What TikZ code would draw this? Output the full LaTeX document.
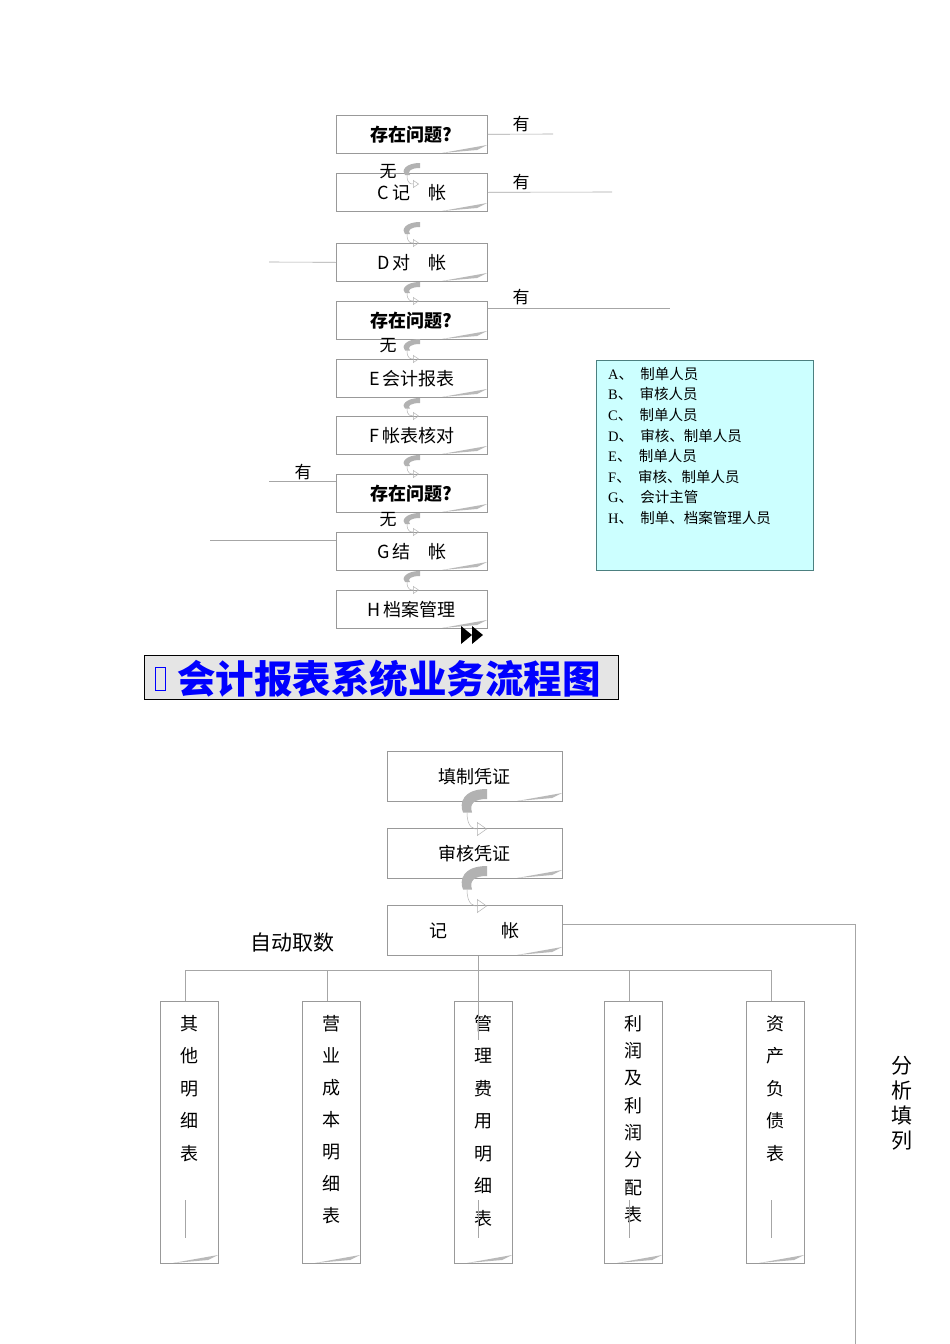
\documentclass[tikz,border=0pt]{standalone}
\usepackage{fontspec}
\setmainfont{Liberation Serif}
\newfontfamily\cjk{Noto Sans CJK SC}
\usetikzlibrary{arrows.meta}
\definecolor{legfill}{RGB}{204,255,255}
\tikzset{
 pbox/.style={draw=gray!80,line width=0.6pt,fill=white,inner sep=0pt,font=\cjk\fontsize{18}{18}\selectfont},
 ln/.style={draw=gray!70,line width=0.6pt},
 lbl/.style={font=\cjk\fontsize{17}{17}\selectfont,inner sep=0pt},
}
\newcommand\curlmark[3]{% x, top y, bottom y
 \fill[gray!60] (#1+9,#2) .. controls (#1-6,#2) and (#1-10,#2+8) .. (#1-6,{(#2+#3)/2}) -- (#1-1,{(#2+#3)/2}) .. controls (#1-4,#2+8) and (#1,#2+5) .. (#1+9,#2+5) -- cycle;
 \draw[gray!60,line width=0.5pt,-{Triangle[open,length=6pt,width=8pt]}] (#1-4,{(#2+#3)/2}) .. controls (#1-4,#3-3) and (#1,#3-3) .. (#1+8,#3-3);
}
\newcommand\curlbig[3]{%
 \fill[gray!60] (#1+12,#2) .. controls (#1-12,#2) and (#1-16,#2+14) .. (#1-12,{(#2+#3)/2}) -- (#1-3,{(#2+#3)/2}) .. controls (#1-6,#2+14) and (#1,#2+10) .. (#1+12,#2+10) -- cycle;
 \draw[gray!60,line width=0.5pt,-{Triangle[open,length=10pt,width=14pt]}] (#1-8,{(#2+#3)/2}) .. controls (#1-8,#3-7) and (#1,#3-7) .. (#1+12,#3-7);
}
\newcommand\curlcorner[4]{% x2 y2
 \fill[gray!55] (#1-45,#2) -- (#1,#2-8) -- (#1-10,#2-3) -- cycle;
}
\begin{document}
\begin{tikzpicture}[x=1pt,y=-1pt]
\useasboundingbox (0,0) rectangle (950,1344);
% top flow
\foreach \n/\t/\txt in {q1/115/{\bfseries 存在问题?},c/173/{C\,\cjk 记\quad 帐},d/243/{D\,\cjk 对\quad 帐},q2/301/{\bfseries 存在问题?},e/359/{E\,\cjk 会计报表},f/416/{F\,\cjk 帐表核对},q3/474/{\bfseries 存在问题?},g/532/{G\,\cjk 结\quad 帐},h/590/{H\,\cjk 档案管理}}{
 \node[pbox,minimum width=151pt,minimum height=38pt,anchor=north west] (\n) at (336,\t) {\txt};
 \curlcorner{487}{\t+38}{}{}
}
\curlmark{411}{163}{187}
\curlmark{411}{222}{246}
\curlmark{411}{282}{304}
\curlmark{411}{339}{362}
\curlmark{411}{398}{419}
\curlmark{411}{455}{477}
\curlmark{411}{513}{535}
\curlmark{411}{571}{593}
\node[lbl] (w1) at (388,172) {无};
\node[lbl] (w2) at (388,346) {无};
\node[lbl] (w3) at (388,520) {无};
\coordinate (r1) at (553,134); \coordinate (r2) at (612,192); \coordinate (r4) at (670,308);
\draw[ln] (q1.east) -- (r1); \draw[ln] (c.east) -- (r2); \draw[ln] (q2.east|-r4) -- (r4);
\node[lbl] (y1) at (521,124) {有}; \node[lbl] (y2) at (521,182) {有}; \node[lbl] (y4) at (521,297) {有};
\coordinate (l1) at (269,262); \coordinate (l2) at (269,481); \coordinate (l3) at (210,540);
\draw[ln] (d.west) -- (l1); \draw[ln] (q3.west|-l2) -- (l2); \draw[ln] (g.west|-l3) -- (l3);
\node[lbl] (y3) at (303,472) {有};
% legend
\node[draw=teal!40!gray,fill=legfill,minimum width=217pt,minimum height=210pt,anchor=north west] (leg) at (596,360) {};
\node[anchor=north west,align=left,font=\fontsize{14.5}{20.6}\selectfont,inner sep=0pt] (legt) at (608,367) {%
A{\cjk 、}\ \ {\cjk 制单人员}\\B{\cjk 、}\ \ {\cjk 审核人员}\\C{\cjk 、}\ \ {\cjk 制单人员}\\D{\cjk 、}\ \ {\cjk 审核、制单人员}\\E{\cjk 、}\ \ {\cjk 制单人员}\\F{\cjk 、}\ \ {\cjk 审核、制单人员}\\G{\cjk 、}\ \ {\cjk 会计主管}\\H{\cjk 、}\ \ {\cjk 制单、档案管理人员}};
% double arrow
\fill (461,626) -- (472,635) -- (461,644) -- cycle;
\fill (472,626) -- (483,635) -- (472,644) -- cycle;
% title
\node[draw=black,fill=gray!20,minimum width=474pt,minimum height=44pt,anchor=north west,inner sep=0pt] (title) at (144,655) {};
\draw[blue,line width=1pt] (155,667) rectangle (165,690);
\node[anchor=west,text=blue,font=\cjk\bfseries\fontsize{38.5}{38.5}\selectfont,inner sep=0pt] (tt) at (177,679) {会计报表系统业务流程图};
% bottom flow
\foreach \n/\t/\txt in {b1/751/填制凭证,b2/828/审核凭证,b3/905/{记\qquad\quad 帐}}{
 \node[pbox,minimum width=175pt,minimum height=50pt,anchor=north west] (\n) at (387,\t) {\txt};
 \curlcorner{562}{\t+50}{}{}
}
\curlbig{475}{789}{836}
\curlbig{475}{866}{913}
\coordinate (rc) at (855,924); \coordinate (rb) at (855,1344);
\draw[ln] (b3.east|-rc) -- (rc) -- (rb);
\node[font=\cjk\fontsize{21}{21}\selectfont,inner sep=0pt] (auto) at (292,943) {自动取数};
\node[font=\cjk\fontsize{21}{25}\selectfont,align=center,inner sep=0pt] (fx) at (902,1103) {分\\析\\填\\列};
\coordinate (hl) at (185,970); \coordinate (hr) at (771,970);
\draw[ln] (hl) -- (hr);
\foreach \n/\x/\txt/\sp in {k1/160/{其\\他\\明\\细\\表}/32.5,k2/302/{营\\业\\成\\本\\明\\细\\表}/32,k3/454/{管\\理\\费\\用\\明\\细\\表}/32.5,k4/604/{利\\润\\及\\利\\润\\分\\配\\表}/27.3,k5/746/{资\\产\\负\\债\\表}/32.5}{
 \node[pbox,minimum width=58pt,minimum height=262pt,anchor=north west] (\n) at (\x,1001) {};
 \curlcorner{\x+58}{1263}{}{}
 \node[anchor=north,align=center,inner sep=0pt,font=\cjk\fontsize{18}{\sp}\selectfont] (\n t) at (\x+29,1015) {\txt};
}
\draw[ln] (hl) -- (k1.north-|hl);
\draw[ln] (327,970) -- (k2.north-|327,0);
\draw[ln] (629,970) -- (k4.north-|629,0);
\draw[ln] (hr) -- (k5.north-|hr);
\draw[ln] (b3.south-|478,0) -- (478,1040);
\draw[ln] (185,1200) -- (185,1238);
\draw[ln] (771,1200) -- (771,1238);
\draw[ln] (629,1200) -- (629,1238);
\draw[ln] (478,1200) -- (478,1238);
\end{tikzpicture}
\end{document}
